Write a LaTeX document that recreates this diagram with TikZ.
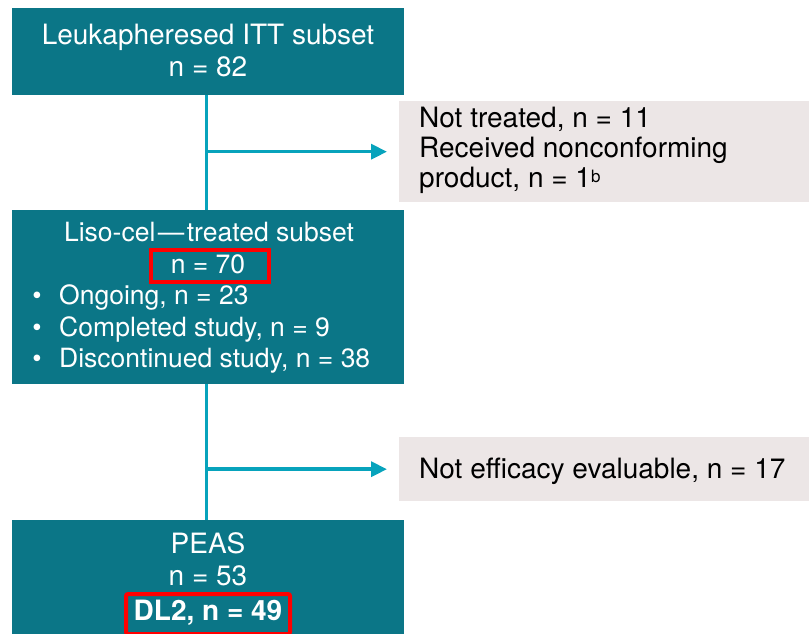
\documentclass[tikz,border=0pt]{standalone}
\usepackage{fontspec}
\setmainfont{TeX Gyre Heros}
\usetikzlibrary{arrows.meta}
\definecolor{tealbox}{HTML}{0B7687}
\definecolor{flowline}{HTML}{07A3BC}
\definecolor{greybox}{HTML}{ECE6E6}
\definecolor{hilite}{HTML}{FF0000}
\tikzset{
  stagebox/.style={fill=tealbox, draw=none, minimum width=392pt, inner sep=0pt, anchor=north west},
  notebox/.style={fill=greybox, draw=none, minimum width=410pt, inner sep=0pt, anchor=north west},
  boxtext/.style={text=white, font=\fontsize{28}{32}\selectfont, inner sep=0pt, anchor=base},
  midtext/.style={boxtext, font=\fontsize{26.5}{31}\selectfont},
  leftwhite/.style={midtext, anchor=base west},
  notetext/.style={text=black, font=\fontsize{28}{32}\selectfont, inner sep=0pt, anchor=base west},
  markbox/.style={draw=hilite, line width=4pt, inner sep=0pt, anchor=north west},
  flow/.style={draw=flowline, line width=3.5pt},
  flowarrow/.style={flow, -{Triangle[length=16pt,width=15pt]}, shorten >=12pt},
}
\begin{document}
\begin{tikzpicture}[x=1pt,y=-1pt]
\useasboundingbox (0,0) rectangle (809,634);

% stage boxes
\node[stagebox, minimum height=87pt]  (itt)  at (12,8)   {};
\node[stagebox, minimum height=174pt] (liso) at (12,210) {};
\node[stagebox, minimum height=114pt] (peas) at (12,520) {};

% exclusion boxes
\node[notebox, minimum height=101pt] (excl1) at (399,101) {};
\node[notebox, minimum height=64pt]  (excl2) at (399,437) {};

% connectors
\draw[flow] ([xshift=-1.5pt]itt.south) -- ([xshift=-1.5pt]liso.north);
\draw[flow] ([xshift=-1.5pt]liso.south) -- ([xshift=-1.5pt]peas.north);
\draw[flowarrow] ([xshift=-1.5pt]itt.south |- excl1.west) -- (excl1.west);
\draw[flowarrow] ([xshift=-1.5pt]liso.south |- excl2.west) -- (excl2.west);

% text of the top box
\node[boxtext] (ittname) at (208,45) {Leukapheresed ITT subset};
\node[boxtext] (ittn)    at (208,77) {n = 82};

% text of the middle box
\node[midtext] (lisoname) at (209,241) {Liso-cel\kern2.5pt—\kern2.5pt treated subset};
\node[midtext] (lison)    at (208,273) {n = 70};
\node[midtext] (b1) at (37,304) {•};
\node[midtext] (b2) at (37,336) {•};
\node[midtext] (b3) at (37,367) {•};
\node[leftwhite] (l1) at (59,304) {Ongoing, n = 23};
\node[leftwhite] (l2) at (59,336) {Completed study, n = 9};
\node[leftwhite] (l3) at (59,367) {Discontinued study, n = 38};

% text of the bottom box
\node[boxtext] (peasname) at (208,553) {PEAS};
\node[boxtext] (peasn)    at (208,585) {n = 53};
\node[boxtext] (peasdl)   at (208,620) {\bfseries DL2, n = 49};

% exclusion texts
\node[notetext] (e1a) at (419,127) {Not treated, n = 11};
\node[notetext] (e1b) at (419,157) {Received nonconforming};
\node[notetext] (e1c) at (419,187) {product, n = 1\raisebox{5pt}{\fontsize{17}{17}\selectfont b}};
\node[notetext] (e2)  at (419,478) {Not efficacy evaluable, n = 17};

% highlight frames
\node[markbox, minimum width=118pt, minimum height=32pt] (mark70) at (149,248) {};
\node[markbox, minimum width=164pt, minimum height=40pt, rounded corners=2pt] (mark49) at (124,592) {};
\end{tikzpicture}
\end{document}
